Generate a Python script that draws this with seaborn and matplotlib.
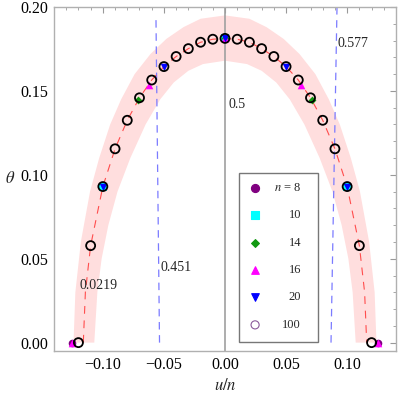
import numpy as np
import pandas as pd
import matplotlib
matplotlib.use("Agg")
import matplotlib.pyplot as plt
from matplotlib.ticker import MultipleLocator, FuncFormatter
from matplotlib.patches import Rectangle
import seaborn as sns

sns.set_theme(style="white")
plt.rcParams.update({
    "font.family": ["Liberation Serif", "DejaVu Serif"],
    "mathtext.fontset": "stix",
    "axes.unicode_minus": True,
})

# ---------------------------------------------------------------------------
# data
# ---------------------------------------------------------------------------

# n = 100 (open circles), u/n = k/100
u100 = [-0.12, -0.11, -0.10, -0.09, -0.08, -0.07, -0.06, -0.05, -0.04, -0.03, -0.02, -0.01, 0.00,
        0.01, 0.02, 0.03, 0.04, 0.05, 0.06, 0.07, 0.08, 0.09, 0.10, 0.11, 0.12]
theta100 = [0.0, 0.0578, 0.0930, 0.1155, 0.1325, 0.1459, 0.1565, 0.1645, 0.1705, 0.1752, 0.1790, 0.1808, 0.1813,
            0.1808, 0.1790, 0.1752, 0.1705, 0.1645, 0.1565, 0.1459, 0.1325, 0.1155, 0.0930, 0.0578, 0.0]

u8, theta8 = [-0.125, 0.0, 0.125], [0.0, 0.1813, 0.0]
u10, theta10 = [-0.10, 0.0, 0.10], [0.0930, 0.1813, 0.0930]
u14, theta14 = [-0.0714, 0.0, 0.0714], [0.1448, 0.1813, 0.1448]
u16, theta16 = [-0.125, -0.0625, 0.0, 0.0625, 0.125], [0.0, 0.1535, 0.1813, 0.1535, 0.0]
u20, theta20 = [-0.10, -0.05, 0.0, 0.05, 0.10], [0.0930, 0.1645, 0.1813, 0.1645, 0.0930]

# red dashed curve
curve_u = [-0.116, -0.1143, -0.11, -0.10, -0.09, -0.08, -0.07, -0.06, -0.05, -0.04, -0.03, -0.02, -0.01, 0.0,
           0.01, 0.02, 0.03, 0.04, 0.05, 0.06, 0.07, 0.08, 0.09, 0.10, 0.11, 0.1143, 0.116]
curve_t = [0.0, 0.030, 0.0578, 0.0930, 0.1155, 0.1325, 0.1459, 0.1565, 0.1645, 0.1705, 0.1752, 0.1790, 0.1808, 0.1813,
           0.1808, 0.1790, 0.1752, 0.1705, 0.1645, 0.1565, 0.1459, 0.1325, 0.1155, 0.0930, 0.0578, 0.030, 0.0]

# pink band edges
outer_u = [-0.124, -0.1225, -0.118, -0.1105, -0.103, -0.094, -0.085, -0.074, -0.061, -0.048, -0.034, -0.020, 0.0,
           0.020, 0.034, 0.048, 0.061, 0.074, 0.085, 0.094, 0.103, 0.1105, 0.118, 0.1225, 0.124]
outer_t = [0.0, 0.03, 0.06, 0.09, 0.11, 0.13, 0.145, 0.16, 0.172, 0.181, 0.188, 0.193, 0.195,
           0.193, 0.188, 0.181, 0.172, 0.16, 0.145, 0.13, 0.11, 0.09, 0.06, 0.03, 0.0]
inner_u = [0.107, 0.1045, 0.101, 0.0955, 0.088, 0.0775, 0.065, 0.053, 0.042, 0.030, 0.018, 0.0,
           -0.018, -0.030, -0.042, -0.053, -0.065, -0.0775, -0.088, -0.0955, -0.101, -0.1045, -0.107]
inner_t = [0.0, 0.03, 0.05, 0.07, 0.09, 0.11, 0.13, 0.145, 0.155, 0.162, 0.166, 0.168,
           0.166, 0.162, 0.155, 0.145, 0.13, 0.11, 0.09, 0.07, 0.05, 0.03, 0.0]

# blue dashed markers (nearly vertical)
left_line_u, left_line_t = [-0.0536, -0.0565], [0.0, 0.193]
right_line_u, right_line_t = [0.0868, 0.0917], [0.0, 0.200]

notes = ["0.577", "0.5", "0.451", "0.0219"]
note_u = [0.0925, 0.0025, -0.0524, -0.1188]
note_t = [0.178, 0.142, 0.0448, 0.034]

legend_labels = ["$n$ = 8", "10", "14", "16", "20", "100"]

# ---------------------------------------------------------------------------

fig = plt.figure(figsize=(3.99, 3.94), dpi=100)
ax = fig.add_axes([0.1353, 0.1091, 0.8572, 0.8731])

ax.fill(outer_u + inner_u, outer_t + inner_t, color="#ffdede", lw=0, zorder=1)
ax.axvline(0, color="#a0a0a0", lw=1.2, zorder=2)

ax.plot(left_line_u, left_line_t, color="#7b7bff", lw=0.9, ls=(0, (6, 4.5)), zorder=2)
ax.plot(right_line_u, right_line_t, color="#7b7bff", lw=0.9, ls=(0, (6, 4.5)), zorder=2)

sns.lineplot(x=curve_u, y=curve_t, sort=False, estimator=None, color="#ff4d4d",
             lw=0.8, ls=(0, (7, 6)), ax=ax, zorder=3)

styles = [
    (u8, theta8, "o", "#800080", 30),
    (u10, theta10, "s", "#00ffff", 26),
    (u14, theta14, "D", "#119911", 16),
    (u16, theta16, "^", "#ff00ff", 30),
    (u20, theta20, "v", "#0000ff", 30),
]
for i, (uu, tt, m, c, s) in enumerate(styles):
    sns.scatterplot(x=uu, y=tt, marker=m, color=c, s=s, linewidth=0, ax=ax, zorder=4 + i)

sns.scatterplot(x=u100, y=theta100, marker="o", s=42, facecolor="none",
                edgecolor="black", linewidth=1.3, ax=ax, zorder=10)

for txt, x, y in zip(notes, note_u, note_t):
    ax.text(x, y, txt, fontsize=10, ha="left", va="center", zorder=11)

# legend box drawn by hand (labels right aligned like the original)
ax.add_patch(Rectangle((0.542, 0.027), 0.231, 0.491, transform=ax.transAxes,
                       facecolor="white", edgecolor="#777777", lw=1, zorder=20))
leg_y = [0.474, 0.394, 0.314, 0.235, 0.156, 0.076]
leg_marks = [("o", "#800080", "#800080", 34), ("s", "#00ffff", "#00ffff", 26),
             ("D", "#119911", "#119911", 16), ("^", "#ff00ff", "#ff00ff", 30),
             ("v", "#0000ff", "#0000ff", 30), ("o", "none", "#8a5a9a", 34)]
for y, lab, (m, fc, ec, s) in zip(leg_y, legend_labels, leg_marks):
    ax.scatter([0.588], [y], marker=m, s=s, facecolor=fc, edgecolor=ec, linewidth=0.8,
               transform=ax.transAxes, zorder=21, clip_on=False)
    ax.text(0.722, y, lab, fontsize=9, ha="right", va="center", transform=ax.transAxes, zorder=21)

ax.set_xlim(-0.14, 0.14)
ax.set_ylim(-0.005, 0.2)
ax.xaxis.set_major_locator(MultipleLocator(0.05))
ax.xaxis.set_minor_locator(MultipleLocator(0.01))
ax.yaxis.set_major_locator(MultipleLocator(0.05))
ax.yaxis.set_minor_locator(MultipleLocator(0.01))
fmt = FuncFormatter(lambda v, _: f"{v:.2f}".replace("-", "\u2212") if abs(v) > 1e-9 else "0.00")
ax.xaxis.set_major_formatter(fmt)
ax.yaxis.set_major_formatter(fmt)
ax.tick_params(which="both", direction="in", top=True, right=True, color="#999999",
               labelsize=11.5, labelcolor="black", pad=4)
ax.tick_params(which="major", length=4, width=0.8)
ax.tick_params(which="minor", length=2, width=0.6)
for sp in ax.spines.values():
    sp.set_color("#b0b0b0")
    sp.set_linewidth(1.0)

ax.set_xlabel("$u/n$", fontsize=12, labelpad=4)
ax.set_ylabel(r"$\theta$", fontsize=12, rotation=0, va="center", ha="center")
ax.yaxis.set_label_coords(-0.128, 0.5)

fig.savefig("out.png", dpi=100)
